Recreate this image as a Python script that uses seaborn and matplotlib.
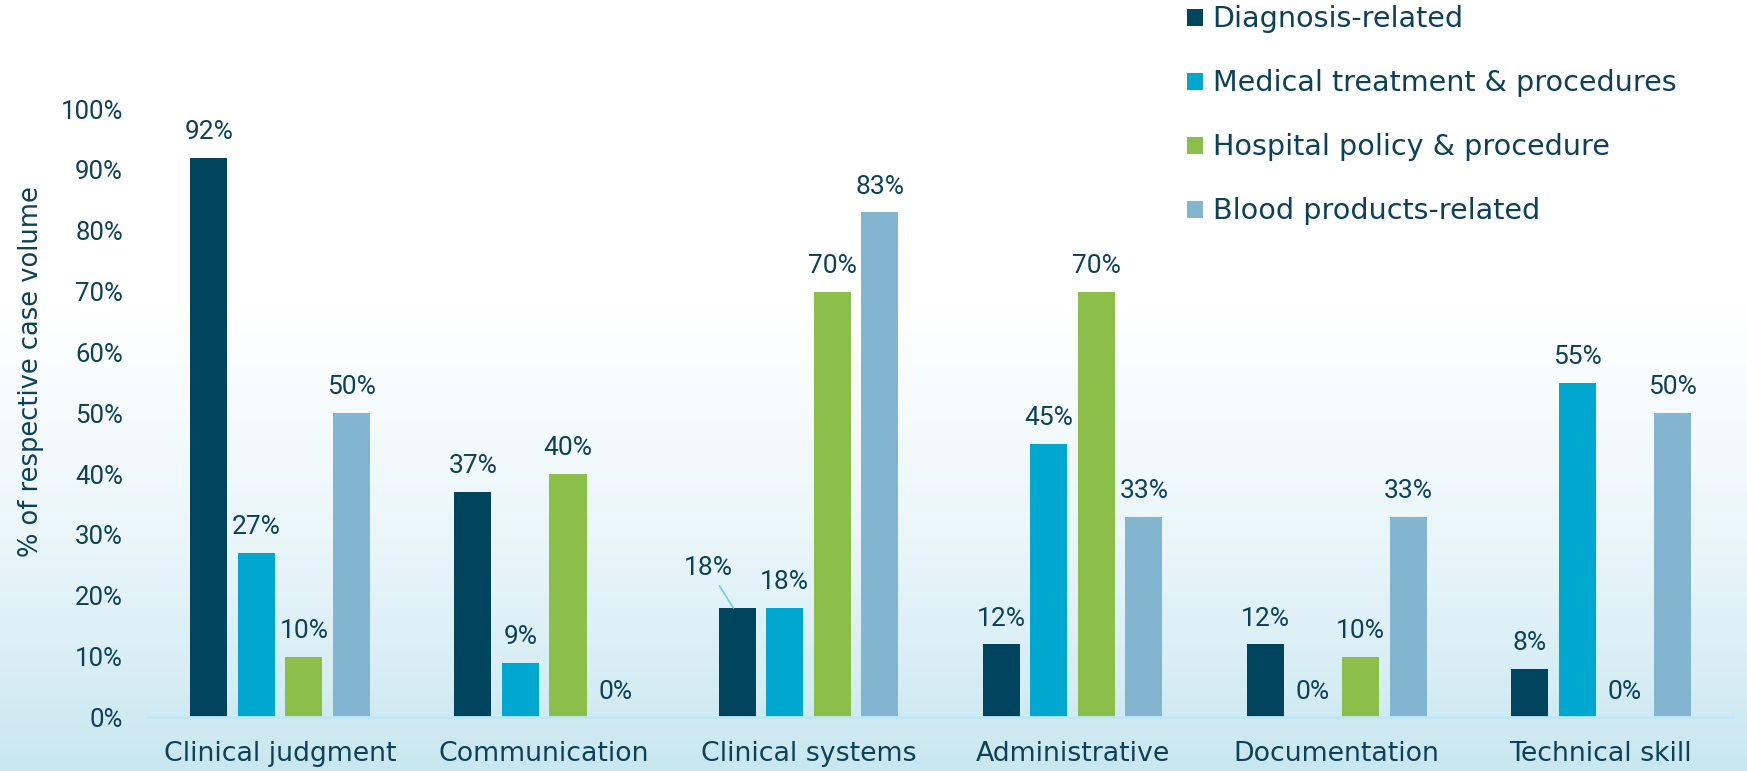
import numpy as np
import pandas as pd
import matplotlib
matplotlib.use("Agg")
import matplotlib.pyplot as plt
import seaborn as sns
from matplotlib.colors import LinearSegmentedColormap
from matplotlib.patches import Patch

categories = ["Clinical judgment", "Communication", "Clinical systems",
              "Administrative", "Documentation", "Technical skill"]
series = ["Diagnosis-related", "Medical treatment & procedures",
          "Hospital policy & procedure", "Blood products-related"]
diagnosis = [92, 37, 18, 12, 12, 8]
treatment = [27, 9, 18, 45, 0, 55]
policy = [10, 40, 70, 70, 10, 0]
blood = [50, 0, 83, 33, 33, 50]
yticks = [0, 10, 20, 30, 40, 50, 60, 70, 80, 90, 100]

colors = ["#00445e", "#00a8cf", "#8bbf4a", "#83b4d0"]
text_color = "#0c4159"
word_font = ["DejaVu Sans"]

sns.set_theme(style="white")
plt.rcParams["font.family"] = ["Roboto", "DejaVu Sans"]

rows = []
for s, vals in zip(series, [diagnosis, treatment, policy, blood]):
    for c, v in zip(categories, vals):
        rows.append({"category": c, "series": s, "value": v})
df = pd.DataFrame(rows)

fig = plt.figure(figsize=(17.47, 7.71), dpi=100)

# background gradient
bg = fig.add_axes([0, 0, 1, 1], zorder=-10)
grad = np.linspace(0, 1, 256).reshape(-1, 1)
cmap = LinearSegmentedColormap.from_list(
    "bg", [(0, "#ffffff"), (0.40, "#ffffff"), (0.70, "#eaf6fa"), (1.0, "#c9e7f0")])
bg.imshow(grad, aspect="auto", cmap=cmap, extent=[0, 1, 0, 1], origin="upper")
bg.set_axis_off()

ax = fig.add_axes([0.0847, 0.0694, 0.9073, 0.7892])
ax.set_facecolor("none")
sns.barplot(data=df, x="category", y="value", hue="series", order=categories,
            hue_order=series, palette=colors, width=0.72, gap=0.22,
            saturation=1, ax=ax, legend=False, edgecolor="none")

ax.set_ylim(0, 100)
ax.set_xlim(-0.5, 5.5)
ax.set_yticks(yticks)
ax.set_yticklabels([f"{t}%" for t in yticks])
ax.tick_params(axis="y", labelsize=18.5, colors=text_color, length=0, pad=18)
ax.tick_params(axis="x", colors=text_color, length=0, pad=17)
for lab in ax.get_xticklabels():
    lab.set_fontfamily(word_font)
    lab.set_fontsize(19.3)
ax.set_xlabel("")
ax.set_ylabel("% of respective case volume", fontsize=18.5, color=text_color,
              labelpad=12, family=word_font)
ax.yaxis.label.set_y(0.568)
for sp in ["top", "right", "left"]:
    ax.spines[sp].set_visible(False)
ax.spines["bottom"].set_color("#bfe7f6")
ax.spines["bottom"].set_linewidth(2)

# value labels
for ci, cont in enumerate(ax.containers):
    for bi, bar in enumerate(cont):
        h = bar.get_height()
        xc = bar.get_x() + bar.get_width() / 2
        if ci == 0 and bi == 2:
            ax.annotate(f"{h:.0f}%", xy=(xc - bar.get_width() * 0.1, h),
                        xytext=(-18, 20), textcoords="offset points",
                        ha="center", va="bottom", fontsize=19, color=text_color,
                        arrowprops=dict(arrowstyle="-", color="#6fd0f0", lw=1.2,
                                        shrinkA=2, shrinkB=0))
        else:
            ax.annotate(f"{h:.0f}%", xy=(xc, h), xytext=(0, 10),
                        textcoords="offset points", ha="center", va="bottom",
                        fontsize=19, color=text_color)

handles = [Patch(facecolor=c, edgecolor="none") for c in colors]
leg = fig.legend(handles, series, loc="upper left", bbox_to_anchor=(0.6728, 1.008),
                 frameon=False, prop={"family": word_font, "size": 20.6},
                 labelcolor=text_color,
                 handlelength=0.55, handleheight=0.55, handletextpad=0.35,
                 labelspacing=1.26, borderaxespad=0)

fig.savefig("out.png", dpi=100)
